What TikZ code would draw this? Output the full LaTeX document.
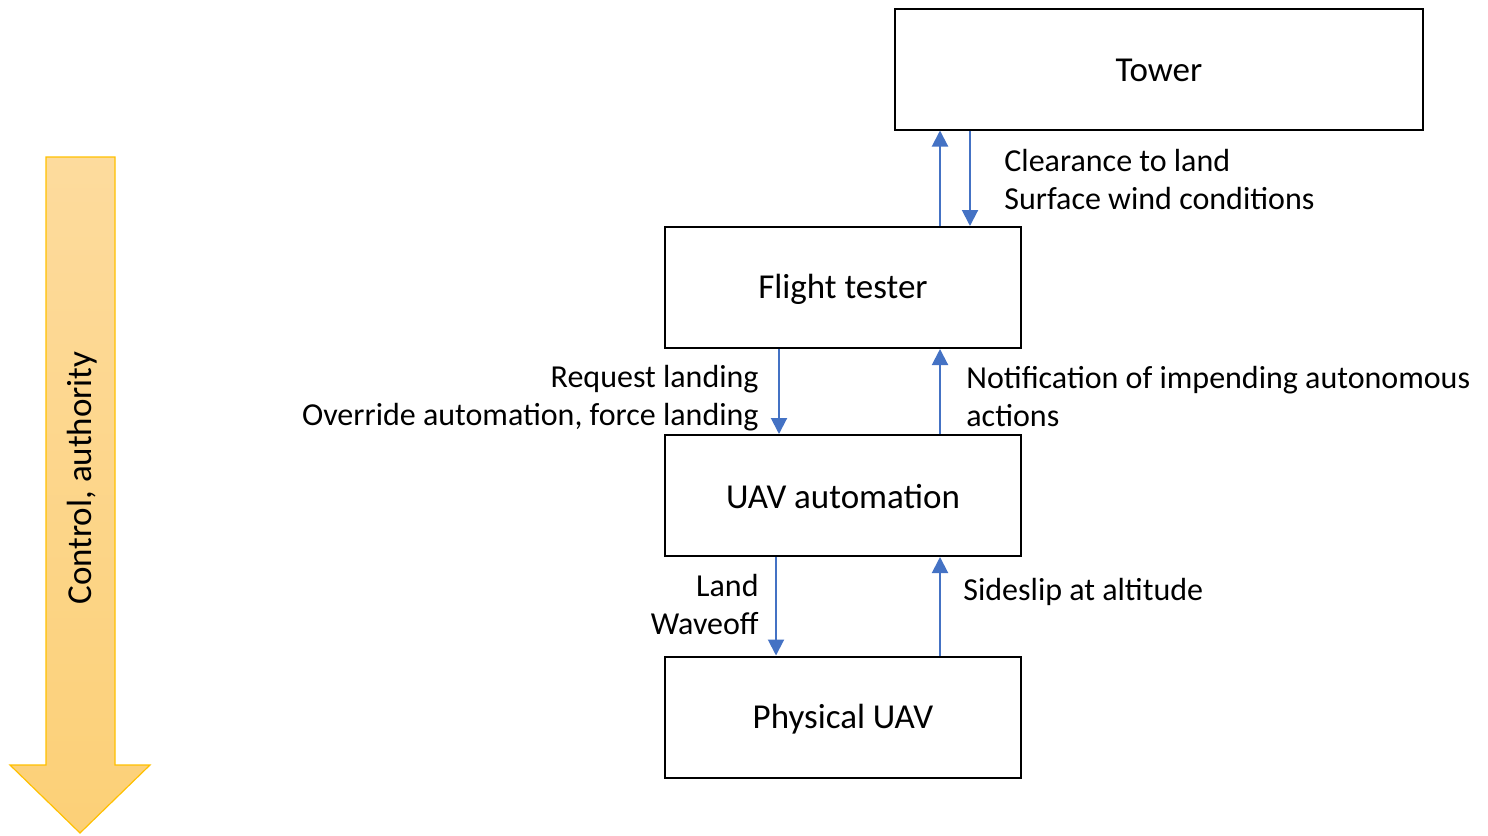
\documentclass[tikz,border=0pt]{standalone}
\usepackage{fontspec}
\setmainfont{Carlito}
\usetikzlibrary{arrows.meta,calc}
\definecolor{conn}{HTML}{4472C4}
\definecolor{arrtop}{HTML}{FDDB9D}
\definecolor{arrbot}{HTML}{FCD077}
\definecolor{arredge}{HTML}{FFC000}
\begin{document}
\begin{tikzpicture}[x=0.5pt,y=-0.5pt,
  box/.style={draw=black,line width=1pt,minimum width=178pt,minimum height=60.5pt,inner sep=0pt,font=\fontsize{17.5}{21}\selectfont},
  boxtext/.style={inner sep=0pt,font=\fontsize{17.5}{21}\selectfont},
  lbl/.style={inner sep=0pt,font=\fontsize{16}{19}\selectfont},
  conn/.style={draw=conn,line width=1pt,-{Triangle[length=8pt,width=8pt]}}]
\useasboundingbox (0,0) rectangle (1488,835);
% big arrow
\shade[top color=arrtop,bottom color=arrbot,draw=arredge,line width=0.6pt]
  (46,157) -- (115,157) -- (115,765) -- (150,765) -- (80,833) -- (10,765) -- (46,765) -- cycle;
\node[rotate=90,inner sep=0pt,font=\fontsize{17.5}{21}\selectfont] (ctl) at (82,478) {Control, authority};
% boxes
\node[box,minimum width=264pt] (tower) at (1159,69) {};
\node[box] (flight) at (843,287.5) {};
\node[box] (auto) at (843,495.5) {};
\node[box] (phys) at (843,717) {};
\node[boxtext] (towert) at (1159,70) {Tower};
\node[boxtext] (flightt) at (843,289) {Flight tester};
\node[boxtext] (autot) at (843,497) {UAV automation};
\node[boxtext] (physt) at (843,719) {Physical UAV};
% x positions of connectors
\coordinate (xa) at (940,0);
\coordinate (xb) at (970,0);
\coordinate (xc) at (779,0);
\coordinate (xd) at (776,0);
% connectors
\draw[conn] (flight.north -| xa) -- (tower.south -| xa);
\draw[conn] (tower.south -| xb) -- (flight.north -| xb);
\draw[conn] (flight.south -| xc) -- (auto.north -| xc);
\draw[conn] (auto.north -| xa) -- (flight.south -| xa);
\draw[conn] (auto.south -| xd) -- (phys.north -| xd);
\draw[conn] (phys.north -| xa) -- (auto.south -| xa);
% labels
\node[lbl,anchor=west,align=left] (l1) at (1004,180) {Clearance to land\\Surface wind conditions};
\node[lbl,anchor=east,align=right] (l2) at (759,398) {Request landing\\Override automation, force landing};
\node[lbl,anchor=west,align=left] (l3) at (966,397) {Notification of impending autonomous\\actions};
\node[lbl,anchor=east,align=right] (l4) at (759,604) {Land\\Waveoff};
\node[lbl,anchor=west] (l5) at (963,592) {Sideslip at altitude};
\end{tikzpicture}
\end{document}
